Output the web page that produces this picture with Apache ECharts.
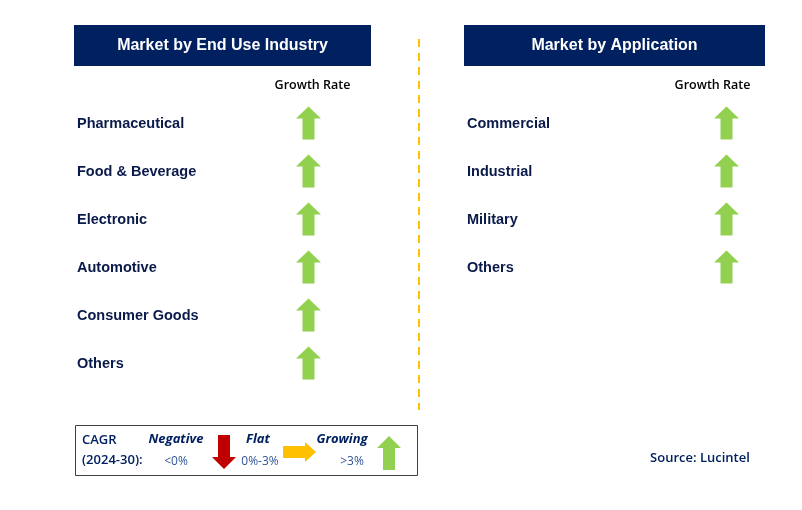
<!DOCTYPE html>
<html>
<head>
<meta charset="utf-8">
<script src="https://cdn.jsdelivr.net/npm/echarts@6/dist/echarts.min.js"></script>
<style>
html,body{margin:0;padding:0;background:#fff;}
#main{width:802px;height:510px;}
</style>
</head>
<body>
<div id="main"></div>
<script>
// ---- data ----
const endUseTitle = 'Market by End Use Industry';
const endUseCategories = ['Pharmaceutical', 'Food & Beverage', 'Electronic', 'Automotive', 'Consumer Goods', 'Others'];
const endUseGrowth = ['Growing', 'Growing', 'Growing', 'Growing', 'Growing', 'Growing'];

const applicationTitle = 'Market by Application';
const applicationCategories = ['Commercial', 'Industrial', 'Military', 'Others'];
const applicationGrowth = ['Growing', 'Growing', 'Growing', 'Growing'];

const growthColumn = ['Growth Rate'];
const legendLabels = ['Negative', 'Flat', 'Growing'];
const legendRanges = ['<0%', '0%-3%', '>3%'];
const sourceText = 'Source: Lucintel';

// ---- styles ----
const NAVY = '#002060';
const TEXT = '#0a1a4a';
const GREEN = '#92D050';
const RED = '#C00000';
const YELLOW = '#FFC000';
const UP = 'path://M12.5,0 L25,12 L18.5,12 L18.5,33 L6.5,33 L6.5,12 L0,12 Z';
const DOWN = 'path://M6.5,0 L18.5,0 L18.5,22 L25,22 L12.5,34 L0,22 L6.5,22 Z';
const RIGHT = 'path://M0,4 L22,4 L22,0 L33,10 L22,20 L22,16 L0,16 Z';
const symbolFor = { Growing: UP, Negative: DOWN, Flat: RIGHT };
const colorFor = { Growing: GREEN, Negative: RED, Flat: YELLOW };

function seriesFor(idx, cats, growth) {
  return {
    type: 'scatter',
    xAxisIndex: idx, yAxisIndex: idx,
    silent: true,
    symbolSize: [25, 33],
    symbolOffset: [0, -1],
    data: cats.map((c, i) => ({
      value: [growthColumn[0], c],
      symbol: symbolFor[growth[i]],
      itemStyle: { color: colorFor[growth[i]], opacity: 1 }
    }))
  };
}

function yAxisFor(idx, cats, margin) {
  return {
    type: 'category', gridIndex: idx, inverse: true, data: cats,
    axisLine: { show: false }, axisTick: { show: false }, splitLine: { show: false },
    axisLabel: {
      align: 'left', margin: margin, color: TEXT, padding: [4, 0, 0, 0],
      fontFamily: 'Liberation Sans, Arial, sans-serif', fontWeight: 'bold', fontSize: 14.5
    }
  };
}

function xAxisFor(idx, pad) {
  return {
    type: 'category', gridIndex: idx, position: 'top', data: growthColumn,
    axisLine: { show: false }, axisTick: { show: false }, splitLine: { show: false },
    axisLabel: {
      margin: 8, color: '#000', padding: pad,
      fontFamily: 'Open Sans, Noto Sans, sans-serif', fontWeight: 600, fontSize: 12.5
    }
  };
}

function poly(pts, ox, oy, color) {
  return { type: 'polygon', shape: { points: pts.map(p => [p[0] + ox, p[1] + oy]) }, style: { fill: color }, silent: true };
}

const chart = echarts.init(document.getElementById('main'), null, { renderer: 'canvas' });

const legendFont = 'Open Sans, Noto Sans, sans-serif';
const graphics = [
  // headers
  { type: 'rect', shape: { x: 74, y: 25, width: 297, height: 41 }, style: { fill: NAVY }, silent: true },
  { type: 'text', x: 222.5, y: 45.5, style: { text: endUseTitle, fill: '#fff', font: 'bold 16px Liberation Sans, Arial, sans-serif', textAlign: 'center', textVerticalAlign: 'middle' }, silent: true },
  { type: 'rect', shape: { x: 464, y: 25, width: 301, height: 41 }, style: { fill: NAVY }, silent: true },
  { type: 'text', x: 614.5, y: 45.5, style: { text: applicationTitle, fill: '#fff', font: 'bold 16px Liberation Sans, Arial, sans-serif', textAlign: 'center', textVerticalAlign: 'middle' }, silent: true },
  // divider
  { type: 'line', shape: { x1: 419, y1: 39, x2: 419, y2: 410 }, style: { stroke: YELLOW, lineWidth: 2, lineDash: [8, 6] }, silent: true },
  // legend box
  { type: 'rect', shape: { x: 75.5, y: 425.5, width: 342, height: 50 }, style: { fill: 'none', stroke: '#404040', lineWidth: 1 }, silent: true },
  { type: 'text', x: 82, y: 440, style: { text: 'CAGR', fill: NAVY, font: '600 13px ' + legendFont, textVerticalAlign: 'middle' }, silent: true },
  { type: 'text', x: 82, y: 460, style: { text: '(2024-30):', fill: NAVY, font: '600 13px ' + legendFont, textVerticalAlign: 'middle' }, silent: true },
  { type: 'text', x: 176, y: 439, style: { text: legendLabels[0], fill: NAVY, font: 'italic bold 13px ' + legendFont, textAlign: 'center', textVerticalAlign: 'middle' }, silent: true },
  { type: 'text', x: 258, y: 439, style: { text: legendLabels[1], fill: NAVY, font: 'italic bold 13px ' + legendFont, textAlign: 'center', textVerticalAlign: 'middle' }, silent: true },
  { type: 'text', x: 342, y: 439, style: { text: legendLabels[2], fill: NAVY, font: 'italic bold 13px ' + legendFont, textAlign: 'center', textVerticalAlign: 'middle' }, silent: true },
  { type: 'text', x: 176, y: 462, style: { text: legendRanges[0], fill: '#2F5597', font: '12px ' + legendFont, textAlign: 'center', textVerticalAlign: 'middle' }, silent: true },
  { type: 'text', x: 260, y: 462, style: { text: legendRanges[1], fill: '#2F5597', font: '12px ' + legendFont, textAlign: 'center', textVerticalAlign: 'middle' }, silent: true },
  { type: 'text', x: 352, y: 462, style: { text: legendRanges[2], fill: '#2F5597', font: '12px ' + legendFont, textAlign: 'center', textVerticalAlign: 'middle' }, silent: true },
  poly([[6,0],[18,0],[18,22],[24,22],[12,34],[0,22],[6,22]], 212, 435, RED),
  poly([[0,4],[22,4],[22,0],[33,10],[22,20],[22,16],[0,16]], 283, 442, YELLOW),
  poly([[12,0],[24,12],[18,12],[18,34],[6,34],[6,12],[0,12]], 377, 436, GREEN),
  // source
  { type: 'text', x: 700, y: 458, style: { text: sourceText, fill: NAVY, font: '600 13px ' + legendFont, textAlign: 'center', textVerticalAlign: 'middle' }, silent: true }
];

chart.setOption({
  animation: false,
  backgroundColor: '#fff',
  grid: [
    { left: 296, width: 25, top: 100, height: 288 },
    { left: 714, width: 25, top: 100, height: 192 }
  ],
  xAxis: [xAxisFor(0, [0, 0, 0, 8]), xAxisFor(1, [0, 28, 0, 0])],
  yAxis: [yAxisFor(0, endUseCategories, 219), yAxisFor(1, applicationCategories, 247)],
  series: [seriesFor(0, endUseCategories, endUseGrowth), seriesFor(1, applicationCategories, applicationGrowth)],
  graphic: graphics
});
</script>
</body>
</html>
